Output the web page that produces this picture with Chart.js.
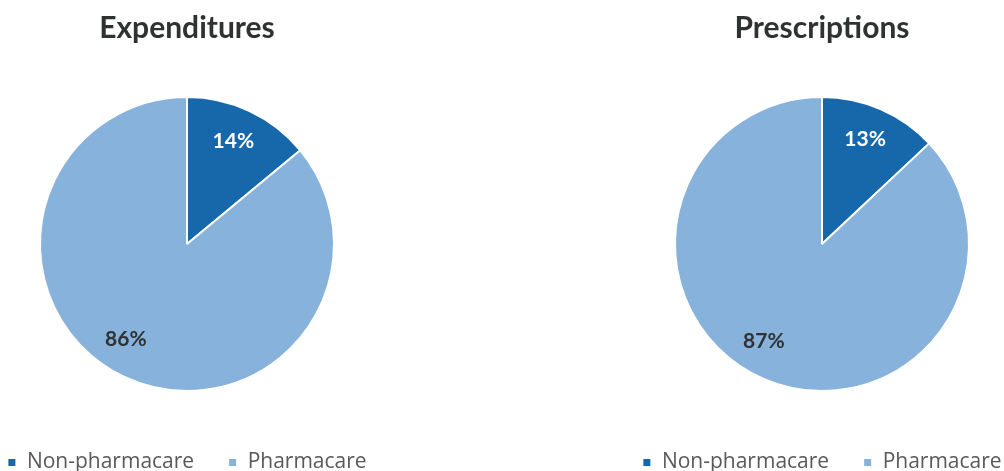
<!DOCTYPE html>
<html>
<head>
<meta charset="utf-8">
<script src="https://cdn.jsdelivr.net/npm/chart.js@4/dist/chart.umd.min.js"></script>
<style>
  html, body { margin: 0; padding: 0; background: #fff; width: 1004px; height: 471px; overflow: hidden; position: relative; }
  .pie { position: absolute; top: 0; height: 483px; width: 520px; }
  #left { left: -73px; }
  #right { left: 562px; }
</style>
</head>
<body>
<div class="pie" id="left"><canvas id="expCanvas"></canvas></div>
<div class="pie" id="right"><canvas id="rxCanvas"></canvas></div>
<script>
const categories = ['Non-pharmacare', 'Pharmacare'];
const expenditureShares = [14, 86];
const prescriptionShares = [13, 87];
const sliceColors = ['#1767ab', '#87b2db'];
const labelColors = ['#ffffff', '#2f3333'];
// excel-style label placement: small angular nudge (deg) per slice
const labelNudge = [-1, 7.5];

const sliceLabels = {
  id: 'sliceLabels',
  afterDatasetsDraw(chart) {
    const { ctx } = chart;
    const meta = chart.getDatasetMeta(0);
    const values = chart.data.datasets[0].data;
    ctx.save();
    ctx.font = 'bold 21px Lato, "Open Sans", sans-serif';
    ctx.textAlign = 'center';
    ctx.textBaseline = 'middle';
    meta.data.forEach((arc, i) => {
      const { x, y, startAngle, endAngle, outerRadius } = arc.getProps(['x', 'y', 'startAngle', 'endAngle', 'outerRadius'], true);
      const mid = (startAngle + endAngle) / 2 + (labelNudge[i] * Math.PI) / 180;
      const r = outerRadius * 0.77;
      ctx.fillStyle = labelColors[i];
      ctx.fillText(`${values[i]}%`, x + Math.cos(mid) * r, y + Math.sin(mid) * r);
    });
    ctx.restore();
  },
};

function renderPie(canvas, title, values) {
  return new Chart(canvas.getContext('2d'), {
    type: 'pie',
    data: {
      labels: categories,
      datasets: [{
        data: values,
        backgroundColor: sliceColors,
        borderColor: '#ffffff',
        borderWidth: 2,
        radius: 147,
      }],
    },
    options: {
      responsive: true,
      maintainAspectRatio: false,
      animation: false,
      layout: { padding: 0 },
      plugins: {
        title: {
          display: true,
          text: title,
          color: '#2e3331',
          font: { family: 'Lato, "Open Sans", sans-serif', size: 30, weight: 'bold' },
          padding: { top: 10, bottom: 24 },
        },
        legend: {
          position: 'bottom',
          labels: {
            color: '#595959',
            boxWidth: 9,
            boxHeight: 9,
            padding: 34,
            font: { family: '"Open Sans", sans-serif', size: 21 },
          },
        },
        tooltip: { enabled: false },
      },
    },
    plugins: [sliceLabels],
  });
}

renderPie(document.getElementById('expCanvas'), 'Expenditures', expenditureShares);
renderPie(document.getElementById('rxCanvas'), 'Prescriptions', prescriptionShares);
</script>
</body>
</html>
